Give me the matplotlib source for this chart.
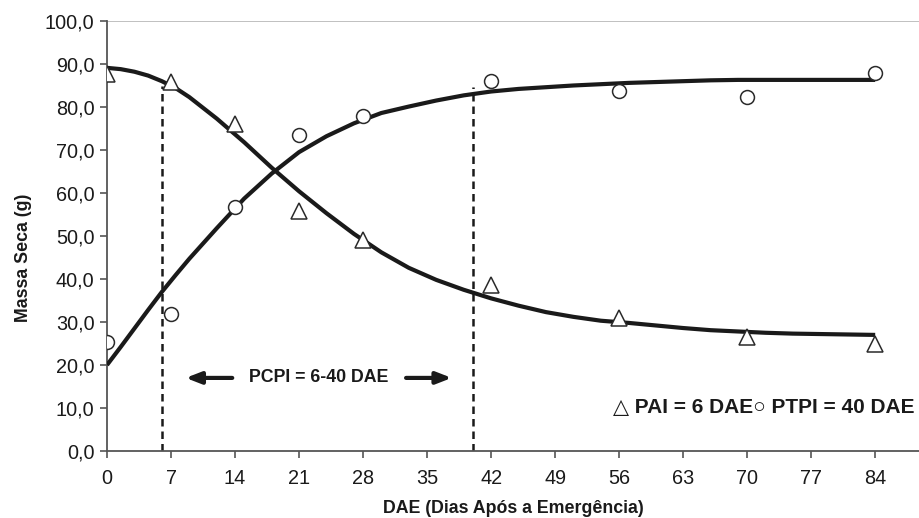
import matplotlib
matplotlib.use("Agg")
import matplotlib.pyplot as plt
import numpy as np

# observed points (DAE vs massa seca)
dae = [0, 7, 14, 21, 28, 42, 56, 70, 84]
pai_obs = [87.7, 85.8, 76.0, 55.9, 49.1, 38.6, 30.9, 26.5, 24.9]
ptpi_obs = [25.3, 31.9, 56.7, 73.5, 77.9, 86.0, 83.7, 82.3, 87.9]

# fitted curves
fit_x = [0, 1.5, 3, 4.5, 6, 7.5, 9, 12, 15, 18, 21, 24, 27, 30, 33, 36, 39, 42,
         45, 48, 51, 54, 57, 60, 63, 66, 69, 72, 75, 78, 81, 84]
pai_fit = [89.1, 88.8, 88.2, 87.3, 86.0, 84.4, 82.3, 77.3, 71.8, 65.9, 60.4, 55.3, 50.5,
           46.2, 42.6, 39.8, 37.5, 35.5, 33.8, 32.3, 31.2, 30.3, 29.8, 29.2, 28.6, 28.1,
           27.8, 27.5, 27.3, 27.2, 27.1, 27.0]
ptpi_fit = [20.0, 24.2, 28.5, 32.8, 37.0, 40.9, 44.7, 51.8, 58.7, 64.5, 69.5, 73.2, 76.2,
            78.6, 80.1, 81.5, 82.7, 83.6, 84.2, 84.6, 85.0, 85.3, 85.6, 85.8, 86.0, 86.2,
            86.3, 86.3, 86.3, 86.3, 86.3, 86.3]

x_ticks = list(range(0, 85, 7))
y_ticks = list(range(0, 101, 10))

pai_day = 6
ptpi_day = 40

fig = plt.figure(figsize=(9.2, 5.18), dpi=100)
ax = fig.add_axes([0.1163, 0.1293, 0.8837, 0.8302])

font = ['Liberation Sans', 'DejaVu Sans']
ink = '#1a1a1a'

# gray line on top at 100
ax.axhline(100, color='#b5b5b5', lw=1.2, zorder=1)

# dashed limits of PCPI
ax.plot([pai_day, pai_day], [0, 84.9], color=ink, lw=1.8, ls=(0, (3, 2)), zorder=2)
ax.plot([ptpi_day, ptpi_day], [0, 84.6], color=ink, lw=1.8, ls=(0, (3, 2)), zorder=2)

# fitted curves
ax.plot(fit_x, pai_fit, color=ink, lw=3, solid_capstyle='butt', zorder=3)
ax.plot(fit_x, ptpi_fit, color=ink, lw=3, solid_capstyle='butt', zorder=3)

# observed points
ax.plot(dae, pai_obs, ls='none', marker='^', ms=11, mfc='white', mec='#2a2a2a', mew=1.1, zorder=4)
ax.plot(dae, ptpi_obs, ls='none', marker='o', ms=10, mfc='white', mec='#2a2a2a', mew=1.1, zorder=4)

# PCPI annotation with arrows
arrow = dict(arrowstyle='-|>,head_length=0.9,head_width=0.35', color=ink, lw=3)
ax.annotate('', xy=(8.3, 17.0), xytext=(14.0, 17.0), arrowprops=arrow)
ax.annotate('', xy=(38.0, 17.0), xytext=(32.4, 17.0), arrowprops=arrow)
ax.text(23.1, 17.0, 'PCPI = 6-40 DAE', ha='center', va='center', fontsize=12.8,
        fontweight='bold', family=font, color=ink)

ax.text(88.3, 10.2, '\u25b3 PAI = 6 DAE\u25cb PTPI = 40 DAE', ha='right', va='center',
        fontsize=15, fontweight='bold', family=font, color=ink)

ax.set_xlim(0, 88.9)
ax.set_ylim(0, 100)
ax.set_xticks(x_ticks)
ax.set_yticks(y_ticks)
ax.set_yticklabels([f'{v},0' for v in y_ticks])

for s in ['top', 'right']:
    ax.spines[s].set_visible(False)
for s in ['left', 'bottom']:
    ax.spines[s].set_color('#555555')
    ax.spines[s].set_linewidth(1.3)

ax.tick_params(axis='both', colors='#555555', length=5, width=1.2, labelcolor=ink)
for lbl in ax.get_xticklabels() + ax.get_yticklabels():
    lbl.set_family(font)
    lbl.set_fontsize(14.3)
ax.tick_params(axis='x', pad=8)
ax.tick_params(axis='y', pad=4)

ax.set_xlabel('DAE (Dias Após a Emergência)', fontsize=12.8, fontweight='bold', family=font,
              color=ink)
ax.set_ylabel('Massa Seca (g)', fontsize=12.8, fontweight='bold', family=font,
              color=ink)
ax.xaxis.set_label_coords(0.5, -0.115)
ax.yaxis.set_label_coords(-0.092, 0.449)

fig.savefig('out.png', dpi=100)
